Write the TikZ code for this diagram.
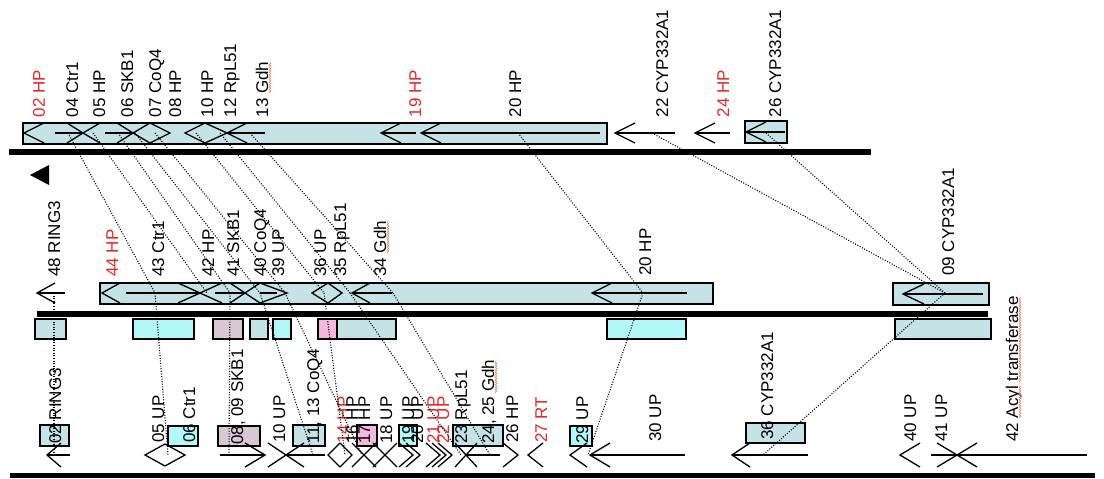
\documentclass[tikz,border=0pt]{standalone}
\usepackage{fontspec}
\setmainfont{Liberation Sans}
\usetikzlibrary{decorations.pathmorphing}
\definecolor{boxblue}{RGB}{197,226,230}
\definecolor{boxcyan}{RGB}{178,248,248}
\definecolor{boxmauve}{RGB}{216,200,214}
\definecolor{boxpink}{RGB}{244,184,222}
\definecolor{lblred}{RGB}{228,40,40}
\definecolor{squig}{RGB}{240,120,90}
\newcommand\gL[4]{\draw[gene] ({#1+#3},{#2-#4}) -- (#1,#2) -- ({#1+#3},{#2+#4});}
\newcommand\gR[4]{\draw[gene] ({#1-#3},{#2-#4}) -- (#1,#2) -- ({#1-#3},{#2+#4});}
\newcommand\gS[3]{\draw[gene] (#1,#3) -- (#2,#3);}
\begin{document}
\begin{tikzpicture}[x=1pt,y=-1pt,
  gene/.style={line width=1.3pt},
  gbox/.style={draw=black, line width=1.1pt, fill=boxblue},
  cbox/.style={draw=black, line width=1.1pt, fill=boxcyan},
  mbox/.style={draw=black, line width=1.1pt, fill=boxmauve},
  pbox/.style={draw=black, line width=1.1pt, fill=boxpink},
  bar/.style={line width=6pt},
  link/.style={line width=1.1pt, dash pattern=on 1pt off 1.6pt, black},
  lbl/.style={rotate=90, anchor=west, inner sep=0pt, text height=12pt, text depth=0pt, font=\fontsize{17}{17}\selectfont},
  hl/.style={text=lblred},
  squiggle/.style={draw=squig, line width=0.6pt, decorate, decoration={snake, amplitude=0.7pt, segment length=2.5pt}}
]
\useasboundingbox (0,0) rectangle (1104,479);
\fill[white] (0,0) rectangle (1104,479);

% ---------------- TOP ROW ----------------
\draw[gbox] (23,123) rectangle (607,144);
\draw[gbox] (745,121) rectangle (787,143);
\draw[bar] (9,152) -- (871,152);
\gL{24}{133}{20}{10}
\gS{55}{83}{133} \gR{83}{133}{16}{10} \gL{83}{133}{17}{10}
\gS{105}{133}{133} \gR{133}{133}{16}{10} \gL{133}{133}{17}{10} \gR{170}{133}{20}{10}
\gL{185}{133}{20}{10} \gR{227}{133}{22}{10} \gL{227}{133}{20}{10} \gS{227}{265}{133}
\gL{381}{133}{20}{10} \gS{381}{416}{133}
\gL{421}{133}{20}{10} \gS{421}{600}{133}
\gL{615}{133}{20}{10} \gS{615}{675}{133}
\gL{695}{133}{20}{10} \gS{695}{730}{133}
\gL{746}{132}{20}{10} \gS{746}{785}{132}

\node[lbl,hl] (t02l) at (39,117.5) {02 HP};
\node[lbl] (t04l) at (72,117.5) {04 Ctr1};
\node[lbl] (t05l) at (99,117.5) {05 HP};
\node[lbl] (t06l) at (127,117.5) {06 SKB1};
\node[lbl] (t07l) at (155,117.5) {07 CoQ4};
\node[lbl] (t08l) at (175,117.5) {08 HP};
\node[lbl] (t10l) at (207,117.5) {10 HP};
\node[lbl] (t12l) at (230,117.5) {12 RpL51};
\node[lbl] (t13l) at (262,117.5) {13 Gdh};
\node[lbl,hl] (t19l) at (415,117.5) {19 HP};
\node[lbl] (t20l) at (515,117.5) {20 HP};
\node[lbl] (t22l) at (662,117.5) {22 CYP332A1};
\node[lbl,hl] (t24l) at (723,117.5) {24 HP};
\node[lbl] (t26l) at (775,117.5) {26 CYP332A1};
\draw[squiggle] (270,93) -- (270,62);

\fill (30,175) -- (49,165) -- (49,185) -- cycle;

% ---------------- MIDDLE ROW ----------------
\draw[gbox] (100,283) rectangle (713,304);
\draw[gbox] (893,283) rectangle (989,305);
\draw[bar] (37,313.5) -- (988,313.5);
\gL{37}{293}{18}{10} \gS{37}{65}{293}
\gL{102}{293}{18}{10} \gS{126}{200}{293}
\gR{200}{293}{22}{10} \gL{200}{293}{22}{10} \gS{215}{245}{293}
\gR{245}{293}{15}{10} \gL{245}{293}{15}{10} \gR{287}{293}{27}{10} \gS{260}{277}{293}
\gL{312}{293}{16}{10} \gR{342}{293}{14}{10}
\gL{352}{293}{18}{10} \gS{352}{392}{293}
\gL{592}{293}{20}{10} \gS{592}{687}{293}
\gL{903}{294}{21}{10} \gS{903}{983}{294}

\node[lbl] (m48l) at (54,277) {48 RING3};
\node[lbl,hl] (m44l) at (112,277) {44 HP};
\node[lbl] (m43l) at (158,277) {43 Ctr1};
\node[lbl] (m42l) at (208,277) {42 HP};
\node[lbl] (m41l) at (233,277) {41 SKB1};
\node[lbl] (m40l) at (260,277) {40 CoQ4};
\node[lbl] (m39l) at (278,277) {39 UP};
\node[lbl] (m36l) at (320,277) {36 UP};
\node[lbl] (m35l) at (340,277) {35 RpL51};
\node[lbl] (m34l) at (380,277) {34 Gdh};
\node[lbl] (m20l) at (645,276) {20 HP};
\node[lbl] (m09l) at (948,276) {09 CYP332A1};
\draw[squiggle] (388,253) -- (388,221);

% synteny blocks under the middle scaffold
\draw[gbox] (35,319) rectangle (66,339);
\draw[cbox] (133,319) rectangle (194,339);
\draw[mbox] (213,319) rectangle (243,339);
\draw[gbox] (250,319) rectangle (268,339);
\draw[cbox] (273,319) rectangle (291,339);
\draw[pbox] (318,319) rectangle (337,339);
\draw[gbox] (337,319) rectangle (396,339);
\draw[cbox] (607,319) rectangle (686,339);
\draw[gbox] (895,319) rectangle (991,339);

% ---------------- BOTTOM ROW ----------------
\draw[gbox] (40,425) rectangle (69,446);
\draw[cbox] (168,426) rectangle (198,446);
\draw[mbox] (218,426) rectangle (260,446);
\draw[gbox] (293,425) rectangle (325,446);
\draw[pbox] (357,425) rectangle (377,446);
\draw[cbox] (399,425) rectangle (417,446);
\draw[gbox] (453,425) rectangle (503,446);
\draw[cbox] (570,426) rectangle (592,446);
\draw[gbox] (746,423) rectangle (805,443);
\draw[line width=5pt] (10,475.5) -- (1095,475.5);

\gL{47}{455}{14}{12} \gS{47}{70}{455}
\gL{145}{455}{20}{11} \gR{185}{455}{20}{11}
\gS{220}{265}{455} \gR{265}{455}{20}{12}
\gR{286}{455}{18}{12} \gL{286}{455}{18}{12} \gS{286}{325}{455}
\gL{328}{455}{12}{12} \gR{352}{455}{12}{12}
\gR{364}{455}{12}{12} \gL{364}{455}{12}{12}
\gR{385}{455}{12}{12} \gL{385}{455}{12}{12}
\gR{413}{455}{14}{12} \gR{420}{455}{14}{12}
\gR{440}{455}{14}{12} \gR{446}{455}{14}{12} \gR{452}{455}{14}{12}
\gR{466}{455}{11}{12} \gL{466}{455}{11}{12} \gS{466}{500}{455}
\gR{518}{455}{15}{12}
\gL{528}{455}{15}{12}
\gL{570}{455}{17}{12} \gL{590}{455}{20}{12} \gS{590}{685}{455}
\gL{732}{455}{18}{12} \gS{732}{808}{455}
\gL{900}{455}{20}{12}
\gS{931}{957}{455} \gR{957}{455}{20}{12} \gL{957}{455}{20}{12} \gS{957}{1087}{455}

\node[lbl] (b02l) at (55,444) {02 RING3};
\node[lbl] (b05l) at (158,443) {05 UP};
\node[lbl] (b06l) at (189,443) {06 Ctr1};
\node[lbl] (b08l) at (237,445) {08, 09 SKB1};
\node[lbl] (b10l) at (279,443) {10 UP};
\node[lbl] (b11l) at (313,444) {11, 13 CoQ4};
\node[lbl,hl] (b14l) at (343,444) {14 HP};
\node[lbl] (b16l) at (352,444) {16 HP};
\node[lbl] (b17l) at (364,444) {17 HP};
\node[lbl] (b18l) at (386,444) {18 UP};
\node[lbl] (b19l) at (408,444) {19 UP};
\node[lbl] (b20l) at (417,444) {20 UP};
\node[lbl,hl] (b21l) at (433,444) {21 UP};
\node[lbl,hl] (b22l) at (443,444) {22 UP};
\node[lbl] (b23l) at (461,444) {23 RpL51};
\node[lbl] (b24l) at (488,444) {24, 25 Gdh};
\node[lbl] (b26l) at (512,443) {26 HP};
\node[lbl,hl] (b27l) at (541,443) {27 RT};
\node[lbl] (b29l) at (582,444) {29 UP};
\node[lbl] (b30l) at (655,442) {30 UP};
\node[lbl] (b36l) at (767,440) {36 CYP332A1};
\node[lbl] (b40l) at (910,442) {40 UP};
\node[lbl] (b41l) at (941,442) {41 UP};
\node[lbl] (b42l) at (1012,442) {42 Acyl transferase};
\draw[squiggle] (496,393) -- (496,361);
\draw[squiggle] (1020,418) -- (1020,386);
\draw[squiggle] (1020,382) -- (1020,297);

% ---------------- LINK COORDINATES ----------------
\coordinate (t04) at (68,133);
\coordinate (t05) at (93,133);
\coordinate (t06) at (118,133);
\coordinate (t07) at (135,133);
\coordinate (t08) at (155,133);
\coordinate (t10) at (196,133);
\coordinate (t12) at (220,133);
\coordinate (t13) at (250,133);
\coordinate (t20) at (518,133);
\coordinate (t22) at (652,133);
\coordinate (t26) at (766,133);
\coordinate (m48) at (54,293);
\coordinate (m43) at (155,293);
\coordinate (m42) at (207,293);
\coordinate (m41) at (230,293);
\coordinate (m40) at (260,293);
\coordinate (m39) at (285,293);
\coordinate (m36) at (324,293);
\coordinate (m35) at (350,293);
\coordinate (m34) at (393,293);
\coordinate (m20) at (643,293);
\coordinate (m09) at (945,293);
\coordinate (b02) at (54,455);
\coordinate (b05) at (168,455);
\coordinate (b08) at (229,453);
\coordinate (b11) at (313,455);
\coordinate (b14) at (345,455);
\coordinate (b16) at (362,455);
\coordinate (b23) at (461,455);
\coordinate (b24) at (490,455);
\coordinate (b29) at (588,455);
\coordinate (b36) at (763,455);

\draw[link] (t04) -- (m43);
\draw[link] (t05) -- (m42);
\draw[link] (t06) -- (m41);
\draw[link] (t07) -- (m40);
\draw[link] (t08) -- (m39);
\draw[link] (t10) -- (m36);
\draw[link] (t12) -- (m35);
\draw[link] (t13) -- (m34);
\draw[link] (t20) -- (m20);
\draw[link] (t22) -- (m09);
\draw[link] (t26) -- (m09);
\draw[link] (m48) -- (b02);
\draw[link] (m43) -- (b05);
\draw[link] (m41) -- (b08);
\draw[link] (m40) -- (b11);
\draw[link] (m39) -- (b16);
\draw[link] (m36) -- (b14);
\draw[link] (m35) -- (b23);
\draw[link] (m34) -- (b24);
\draw[link] (m20) -- (b29);
\draw[link] (m09) -- (b36);
\end{tikzpicture}
\end{document}
